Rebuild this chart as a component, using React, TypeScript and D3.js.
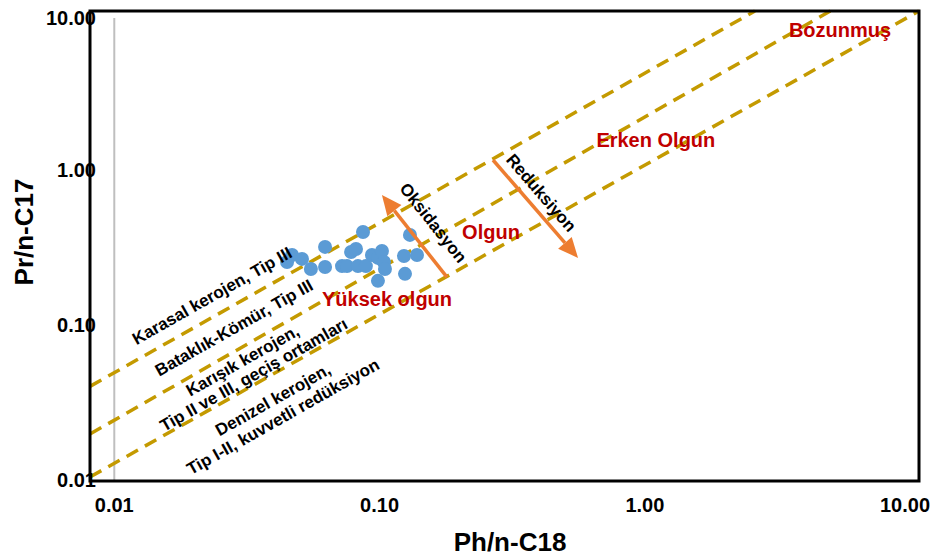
import React, { useEffect, useRef } from 'react';
import * as d3 from 'd3';

// Pr/n-C17 vs Ph/n-C18 samples
const samples = [
  { ph: 0.0448, pr: 0.254 },
  { ph: 0.0468, pr: 0.282 },
  { ph: 0.051, pr: 0.266 },
  { ph: 0.0551, pr: 0.229 },
  { ph: 0.0623, pr: 0.318 },
  { ph: 0.0623, pr: 0.236 },
  { ph: 0.0722, pr: 0.239 },
  { ph: 0.0754, pr: 0.239 },
  { ph: 0.0781, pr: 0.295 },
  { ph: 0.0815, pr: 0.308 },
  { ph: 0.0866, pr: 0.397 },
  { ph: 0.0829, pr: 0.239 },
  { ph: 0.0888, pr: 0.239 },
  { ph: 0.0936, pr: 0.282 },
  { ph: 0.0986, pr: 0.27 },
  { ph: 0.1021, pr: 0.299 },
  { ph: 0.1039, pr: 0.254 },
  { ph: 0.1048, pr: 0.229 },
  { ph: 0.0986, pr: 0.192 },
  { ph: 0.1236, pr: 0.278 },
  { ph: 0.1247, pr: 0.213 },
  { ph: 0.1302, pr: 0.38 },
  { ph: 0.1384, pr: 0.282 },
];

// boundary lines between kerogen fields
const boundaries = [
  [{ ph: 0.0081, pr: 0.04 }, { ph: 2.6, pr: 10.6 }],
  [{ ph: 0.0081, pr: 0.0197 }, { ph: 5.0, pr: 10.6 }],
  [{ ph: 0.0081, pr: 0.0104 }, { ph: 10.8, pr: 10.6 }],
];

const xTicks = [0.01, 0.1, 1, 10];
const yTicks = [0.01, 0.1, 1, 10];

const fieldLabels = [
  { text: 'Karasal kerojen, Tip III', ph: 0.0234, pr: 0.1533 },
  { text: 'Bataklık-Kömür, Tip III', ph: 0.0283, pr: 0.0953 },
  { text: 'Karışık kerojen,', ph: 0.0305, pr: 0.0585 },
  { text: 'Tip II ve III, geçiş ortamları', ph: 0.0336, pr: 0.0474 },
  { text: 'Denizel kerojen,', ph: 0.0397, pr: 0.0327 },
  { text: 'Tip I-II, kuvvetli redüksiyon', ph: 0.0433, pr: 0.0254 },
];

const maturityLabels = [
  { text: 'Bozunmuş', ph: 5.44, pr: 7.99 },
  { text: 'Erken Olgun', ph: 1.1, pr: 1.557 },
  { text: 'Olgun', ph: 0.263, pr: 0.397 },
  { text: 'Yüksek olgun', ph: 0.1067, pr: 0.1466 },
];

const arrows = [
  { text: 'Oksidasyon', from: { ph: 0.1795, pr: 0.203 }, to: { ph: 0.1021, pr: 0.688 }, label: { ph: 0.159, pr: 0.4536 } },
  { text: 'Reduksiyon', from: { ph: 0.2677, pr: 1.157 }, to: { ph: 0.56, pr: 0.27 }, label: { ph: 0.406, pr: 0.708 } },
];

const FONT = '"Liberation Sans", Arial, sans-serif';

const App = () => {
  const ref = useRef(null);

  useEffect(() => {
    const svg = d3.select(ref.current);
    svg.selectAll('*').remove();

    const x = d3.scaleLog().domain([0.0081, 10.8]).range([90, 919]);
    const y = d3.scaleLog().domain([0.0098, 10.6]).range([481, 11]);
    const fmt = d3.format('.2f');

    // gray line at x = 0.01
    svg.append('line')
      .attr('x1', x(0.01)).attr('x2', x(0.01))
      .attr('y1', y(10) + 3).attr('y2', y(0.0098))
      .attr('stroke', '#BFBFBF').attr('stroke-width', 2);

    // dashed boundaries
    const line = d3.line().x(d => x(d.ph)).y(d => y(d.pr));
    svg.selectAll('.bound')
      .data(boundaries)
      .enter()
      .append('path')
      .attr('d', d => line(d))
      .attr('fill', 'none')
      .attr('stroke', '#C49A00')
      .attr('stroke-width', 3.5)
      .attr('stroke-dasharray', '13,8');

    // points
    svg.selectAll('.pt')
      .data(samples)
      .enter()
      .append('circle')
      .attr('cx', d => x(d.ph))
      .attr('cy', d => y(d.pr))
      .attr('r', 7)
      .attr('fill', '#5B9BD5');

    // frame
    svg.append('rect')
      .attr('x', 90).attr('y', 11).attr('width', 829).attr('height', 470)
      .attr('fill', 'none').attr('stroke', '#000').attr('stroke-width', 3);

    // arrows
    arrows.forEach(a => {
      const x1 = x(a.from.ph), y1 = y(a.from.pr);
      const x2 = x(a.to.ph), y2 = y(a.to.pr);
      const ang = Math.atan2(y2 - y1, x2 - x1);
      const hl = 20, hw = 9;
      const bx = x2 - hl * Math.cos(ang), by = y2 - hl * Math.sin(ang);
      svg.append('line')
        .attr('x1', x1).attr('y1', y1).attr('x2', bx).attr('y2', by)
        .attr('stroke', '#ED7D31').attr('stroke-width', 3.5);
      const px = -Math.sin(ang), py = Math.cos(ang);
      svg.append('polygon')
        .attr('points', [[x2, y2], [bx + px * hw, by + py * hw], [bx - px * hw, by - py * hw]].map(p => p.join(',')).join(' '))
        .attr('fill', '#ED7D31');
      const deg = ang * 180 / Math.PI + (ang < 0 ? 180 : 0);
      svg.append('text')
        .attr('transform', `translate(${x(a.label.ph)},${y(a.label.pr)}) rotate(${deg})`)
        .attr('text-anchor', 'middle').attr('dominant-baseline', 'central')
        .attr('font-family', FONT).attr('font-weight', 'bold').attr('font-size', 17)
        .attr('fill', '#000')
        .text(a.text);
    });

    // field labels
    svg.selectAll('.field')
      .data(fieldLabels)
      .enter()
      .append('text')
      .attr('transform', d => `translate(${x(d.ph)},${y(d.pr)}) rotate(-29.5)`)
      .attr('text-anchor', 'middle').attr('dominant-baseline', 'central')
      .attr('font-family', FONT).attr('font-weight', 'bold').attr('font-size', 17)
      .attr('fill', '#000')
      .text(d => d.text);

    // maturity labels
    svg.selectAll('.mat')
      .data(maturityLabels)
      .enter()
      .append('text')
      .attr('x', d => x(d.ph)).attr('y', d => y(d.pr))
      .attr('text-anchor', 'middle').attr('dominant-baseline', 'central')
      .attr('font-family', FONT).attr('font-weight', 'bold').attr('font-size', 20)
      .attr('fill', '#C00000')
      .text(d => d.text);

    // tick labels
    svg.selectAll('.yt')
      .data(yTicks)
      .enter()
      .append('text')
      .attr('x', 96).attr('y', d => Math.max(y(d), 18))
      .attr('text-anchor', 'end').attr('dominant-baseline', 'central')
      .attr('font-family', FONT).attr('font-weight', 'bold').attr('font-size', 20)
      .text(d => fmt(d));

    svg.selectAll('.xt')
      .data(xTicks)
      .enter()
      .append('text')
      .attr('x', d => Math.min(x(d), 905)).attr('y', 512)
      .attr('text-anchor', 'middle')
      .attr('font-family', FONT).attr('font-weight', 'bold').attr('font-size', 20)
      .text(d => fmt(d));

    // axis titles
    svg.append('text')
      .attr('x', 510).attr('y', 551)
      .attr('text-anchor', 'middle')
      .attr('font-family', FONT).attr('font-weight', 'bold').attr('font-size', 26)
      .text('Ph/n-C18');

    svg.append('text')
      .attr('transform', 'translate(24,232) rotate(-90)')
      .attr('text-anchor', 'middle').attr('dominant-baseline', 'central')
      .attr('font-family', FONT).attr('font-weight', 'bold').attr('font-size', 26)
      .text('Pr/n-C17');
  }, []);

  return (
    <svg ref={ref} width={937} height={558}
      style={{ position: 'absolute', left: 0, top: 0, background: '#fff' }} />
  );
};

export default App;
